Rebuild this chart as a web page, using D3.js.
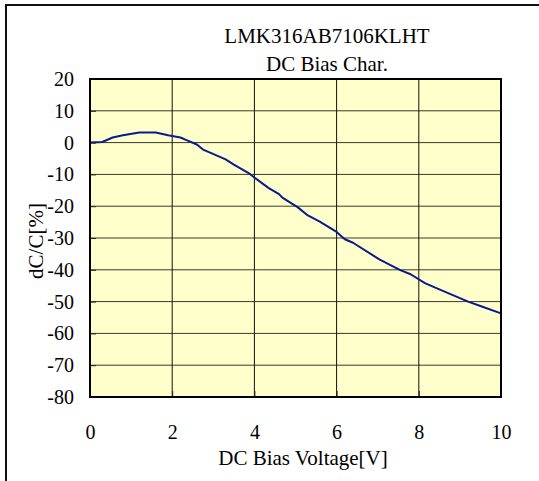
<!DOCTYPE html>
<html>
<head>
<meta charset="utf-8">
<script src="https://cdn.jsdelivr.net/npm/d3@7"></script>
<style>
  body { margin: 0; background: #fff; }
  svg { display: block; }
</style>
</head>
<body>
<div id="chart"></div>
<script>
// DC bias curve
const voltage = [0, 0.3, 0.55, 0.8, 1.2, 1.6, 1.9, 2.2, 2.35, 2.6, 2.75, 2.95, 3.3, 3.5, 3.85, 4.0,
  4.35, 4.6, 4.68, 5.05, 5.3, 5.58, 6.0, 6.2, 6.4, 7.05, 7.55, 7.8, 8.15, 8.4, 9.2, 9.55, 10];
const dcChange = [0, 0.2, 1.6, 2.3, 3.2, 3.2, 2.3, 1.6, 0.8, -0.6, -2.2, -3.3, -5.3, -6.9, -9.5, -11.0,
  -14.3, -16.2, -17.3, -20.3, -22.9, -24.8, -28.1, -30.4, -31.5, -36.8, -40.1, -41.4, -44.2, -45.6, -50.0, -51.6, -53.7];
const xTicks = [0, 2, 4, 6, 8, 10];
const yTicks = [20, 10, 0, -10, -20, -30, -40, -50, -60, -70, -80];
const titleLines = ['LMK316AB7106KLHT', 'DC Bias Char.'];

const width = 539, height = 481;
const margin = {top: 79, right: 38, bottom: 84, left: 90};
const font = '"Liberation Serif", "Times New Roman", serif';

const svg = d3.select('#chart')
  .append('svg')
  .attr('width', width)
  .attr('height', height)
  .style('font-family', font);

// outer frame (runs off the right/bottom edge)
svg.append('rect')
  .attr('x', 6).attr('y', 5)
  .attr('width', width + 10).attr('height', height + 10)
  .attr('fill', 'none')
  .attr('stroke', '#111')
  .attr('stroke-width', 2);

const x = d3.scaleLinear()
  .domain([0, 10])
  .range([margin.left, width - margin.right]);

const y = d3.scaleLinear()
  .domain([-80, 20])
  .range([height - margin.bottom, margin.top]);

// plot background
svg.append('rect')
  .attr('x', x(0)).attr('y', y(20))
  .attr('width', x(10) - x(0)).attr('height', y(-80) - y(20))
  .attr('fill', '#ffffcc');

// gridlines
svg.append('g')
  .selectAll('line')
  .data(yTicks.slice(1, -1))
  .join('line')
  .attr('x1', x(0)).attr('x2', x(10))
  .attr('y1', d => y(d)).attr('y2', d => y(d))
  .attr('stroke', '#3a3a30')
  .attr('stroke-width', 1);

svg.append('g')
  .selectAll('line')
  .data(xTicks.slice(1, -1))
  .join('line')
  .attr('x1', d => x(d)).attr('x2', d => x(d))
  .attr('y1', y(20)).attr('y2', y(-80))
  .attr('stroke', '#111')
  .attr('stroke-width', 1);

// axes: tick marks inside the plot, labels outside (plain hyphen for minus)
const fmt = d => String(d);
const yAxis = svg.append('g')
  .attr('transform', `translate(${x(0)},0)`)
  .call(d3.axisLeft(y).tickValues(yTicks).tickFormat(fmt).tickSize(-6).tickPadding(16));
const xAxis = svg.append('g')
  .attr('transform', `translate(0,${y(-80)})`)
  .call(d3.axisBottom(x).tickValues(xTicks).tickFormat(fmt).tickSize(-6).tickPadding(28));

[yAxis, xAxis].forEach(g => {
  g.select('.domain').remove();
  g.selectAll('line').attr('stroke', '#222');
  g.selectAll('text')
    .attr('fill', '#000')
    .style('font-family', font)
    .style('font-size', '20px');
});

// curve
const line = d3.line()
  .x(d => x(d[0]))
  .y(d => y(d[1]));

svg.append('path')
  .datum(d3.zip(voltage, dcChange))
  .attr('d', line)
  .attr('fill', 'none')
  .attr('stroke', '#0a1a8a')
  .attr('stroke-width', 2)
  .attr('stroke-linejoin', 'round');

// plot border
svg.append('rect')
  .attr('x', x(0)).attr('y', y(20))
  .attr('width', x(10) - x(0)).attr('height', y(-80) - y(20))
  .attr('fill', 'none')
  .attr('stroke', '#000')
  .attr('stroke-width', 2);

// titles
svg.append('g')
  .selectAll('text')
  .data(titleLines)
  .join('text')
  .attr('x', 327)
  .attr('y', (d, i) => 43 + i * 28)
  .attr('text-anchor', 'middle')
  .style('font-size', '21px')
  .text(d => d);

svg.append('text')
  .attr('x', 303)
  .attr('y', 465)
  .attr('text-anchor', 'middle')
  .style('font-size', '21px')
  .text('DC Bias Voltage[V]');

svg.append('text')
  .attr('transform', `translate(43,${(y(20) + y(-80)) / 2 + 3}) rotate(-90)`)
  .attr('text-anchor', 'middle')
  .style('font-size', '21px')
  .text('dC/C[%]');
</script>
</body>
</html>
